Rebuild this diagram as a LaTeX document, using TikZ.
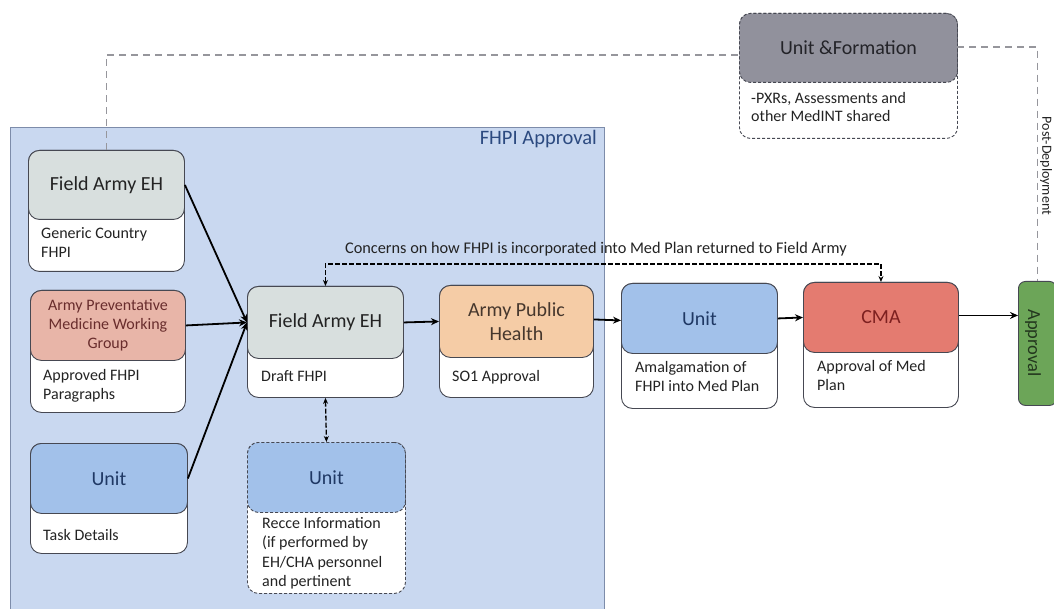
\documentclass[tikz,border=0pt]{standalone}
\usepackage{fontspec}
\setmainfont{Carlito}
\usetikzlibrary{arrows.meta,calc}
\definecolor{bgblue}{RGB}{201,216,240}
\definecolor{bgline}{RGB}{125,140,170}
\definecolor{boxline}{RGB}{70,72,82}
\definecolor{faeh}{RGB}{216,223,222}
\definecolor{apmc}{RGB}{232,181,168}
\definecolor{unitc}{RGB}{162,193,234}
\definecolor{aphc}{RGB}{245,204,166}
\definecolor{cmac}{RGB}{228,123,112}
\definecolor{ufc}{RGB}{145,145,156}
\definecolor{apprc}{RGB}{108,165,88}
\definecolor{bodytext}{RGB}{35,35,35}
\definecolor{navy}{RGB}{31,56,100}
\definecolor{darkred}{RGB}{125,32,32}
\definecolor{brownish}{RGB}{105,45,45}
\definecolor{fhpiblue}{RGB}{44,74,128}
\definecolor{graydash}{RGB}{150,150,156}
\definecolor{aphtext}{RGB}{70,55,45}
\definecolor{apprtext}{RGB}{35,55,30}
\definecolor{uftext}{RGB}{35,35,40}
\tikzset{
  boxbody/.style={draw=boxline, line width=0.9pt, rounded corners=11pt, inner sep=0pt, anchor=north west, fill=white},
  boxhead/.style={boxbody, align=center, text=bodytext, font=\fontsize{20}{24}\selectfont},
  bodytxt/.style={anchor=north west, align=left, inner sep=0pt, text=bodytext, font=\fontsize{16}{19.5}\selectfont},
  dashbox/.style={dash pattern=on 3pt off 2pt},
  flow/.style={line width=1.8pt, -{Stealth[length=8pt,width=7pt]}},
  concern/.style={line width=1.3pt, dash pattern=on 5pt off 2pt, {Stealth[length=6pt,width=5pt]}-{Stealth[length=6pt,width=5pt]}},
  grayline/.style={draw=graydash, line width=1.4pt, dash pattern=on 7pt off 5pt}
}
\begin{document}
\begin{tikzpicture}[x=1pt,y=-1pt]
\useasboundingbox (0,0) rectangle (1054,609);
\fill[white] (0,0) rectangle (1054,609);
% background region
\draw[fill=bgblue, draw=bgline, line width=0.8pt] (10,127) rectangle (604,615);
\node[anchor=north east, inner sep=0pt, text=fhpiblue, font=\fontsize{20.5}{24}\selectfont] (fhpi) at (597,130) {FHPI Approval};

% Field Army EH (left)
\node[boxbody, minimum width=156pt, minimum height=121pt] (fa1) at (28,150) {};
\node[boxhead, fill=faeh, minimum width=156pt, minimum height=69pt] (fa1h) at (28,150) {Field Army EH};
\node[bodytxt] (fa1t) at (41,227) {Generic Country\\FHPI};

% Army Preventative Medicine Working Group
\node[boxbody, minimum width=155pt, minimum height=122pt] (apm) at (30,290) {};
\node[boxhead, fill=apmc, minimum width=155pt, minimum height=70pt, text=brownish, font=\fontsize{16}{19}\selectfont] (apmh) at (30,290) {Army Preventative\\Medicine Working\\Group};
\node[bodytxt] (apmt) at (43,369) {Approved FHPI\\Paragraphs};

% Unit (left)
\node[boxbody, minimum width=157pt, minimum height=110pt] (u1) at (30,443) {};
\node[boxhead, fill=unitc, minimum width=157pt, minimum height=70pt, text=navy] (u1h) at (30,443) {Unit};
\node[bodytxt] (u1t) at (43,529) {Task Details};

% Field Army EH (centre)
\node[boxbody, minimum width=156pt, minimum height=111pt] (fa2) at (247,286) {};
\node[boxhead, fill=faeh, minimum width=156pt, minimum height=72pt] (fa2h) at (247,286) {Field Army EH};
\node[bodytxt] (fa2t) at (261,370) {Draft FHPI};

% Army Public Health
\node[boxbody, minimum width=154pt, minimum height=112pt] (aph) at (439,285) {};
\node[boxhead, fill=aphc, minimum width=154pt, minimum height=72pt, text=aphtext] (aphh) at (439,285) {Army Public\\Health};
\node[bodytxt] (apht) at (452,370) {SO1 Approval};

% Unit (recce, dashed)
\node[boxbody, dashbox, minimum width=158pt, minimum height=151pt] (u2) at (247,442) {};
\node[boxhead, dashbox, fill=unitc, minimum width=158pt, minimum height=70pt, text=navy] (u2h) at (247,442) {Unit};
\node[bodytxt] (u2t) at (262,517) {Recce Information\\(if performed by\\EH/CHA personnel\\and pertinent};

% Unit (amalgamation)
\node[boxbody, minimum width=156pt, minimum height=125pt] (u3) at (621,283) {};
\node[boxhead, fill=unitc, minimum width=156pt, minimum height=70pt, text=navy] (u3h) at (621,283) {Unit};
\node[bodytxt] (u3t) at (635,361) {Amalgamation of\\FHPI into Med Plan};

% CMA
\node[boxbody, minimum width=155pt, minimum height=125pt] (cma) at (803,282) {};
\node[boxhead, fill=cmac, minimum width=155pt, minimum height=70pt, text=darkred] (cmah) at (803,282) {CMA};
\node[bodytxt] (cmat) at (817,360) {Approval of Med\\Plan};

% Approval (green)
\node[boxbody, fill=apprc, minimum width=38pt, minimum height=124pt, rounded corners=7pt] (appr) at (1018,281) {};
\node[rotate=-90, inner sep=0pt, text=apprtext, font=\fontsize{18.5}{20}\selectfont] (apprt) at (1033,343) {Approval};

% Unit & Formation (dashed)
\node[boxbody, dashbox, minimum width=218pt, minimum height=125pt] (uf) at (739,13) {};
\node[boxhead, dashbox, fill=ufc, minimum width=218pt, minimum height=69pt, text=uftext] (ufh) at (739,13) {Unit \&Formation};
\node[bodytxt, font=\fontsize{16}{18.5}\selectfont] (uft) at (751,92) {-PXRs, Assessments and\\other MedINT shared};

% flow connectors
\draw[flow] (fa1h.east) -- (fa2h.west);
\draw[flow] (apmh.east) -- (fa2h.west);
\draw[flow] (u1h.east) -- (fa2h.west);
\draw[flow] (fa2h.east) -- (aphh.west);
\draw[flow] ($(aphh.east)+(0,-2)$) -- ($(u3h.west)+(0,2)$);
\draw[flow] (u3h.east) -- (cmah.west);
\draw[flow] ($(cmah.east)+(0,-2)$) -- ($(appr.west)+(0,-28)$);

% concerns feedback loop
\coordinate (cmid) at (600,264);
\draw[concern] (fa2h.north) |- (cmid) -| (cmah.north);
\node[inner sep=0pt, text=bodytext, font=\fontsize{16.3}{19}\selectfont] (concerntxt) at (596,249) {Concerns on how FHPI is incorporated into Med Plan returned to Field Army};

% recce link
\draw[concern] (fa2.south) -- (u2h.north);

% post-deployment gray loop
\coordinate (ufL) at (739,55);
\coordinate (ufR) at (957,47);
\draw[grayline] (fa1h.north) |- (ufL);
\draw[grayline] (ufR) -| (appr.north);
\node[rotate=-90, inner sep=0pt, text=bodytext, font=\fontsize{14}{16}\selectfont] (postdep) at (1046,166) {Post-Deployment};
\end{tikzpicture}
\end{document}
